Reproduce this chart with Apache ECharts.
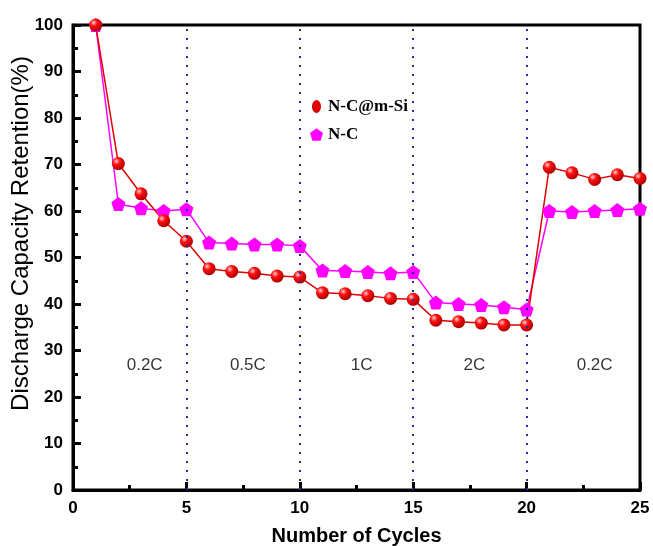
<!DOCTYPE html>
<html><head><meta charset="utf-8">
<script src="https://cdn.jsdelivr.net/npm/echarts@6/dist/echarts.min.js"></script>
<style>html,body{margin:0;padding:0;background:#fff}#c{width:653px;height:546px}</style>
</head><body><div id="c"></div>
<script>
var cycles = [1,2,3,4,5,6,7,8,9,10,11,12,13,14,15,16,17,18,19,20,21,22,23,24,25];
var ncmsi = [100,70.2,63.7,57.9,53.5,47.6,47.0,46.6,46.0,45.8,42.4,42.2,41.8,41.2,41.0,36.5,36.2,35.9,35.5,35.5,69.4,68.2,66.8,67.8,67.0];
var nc = [100,61.5,60.6,60.0,60.4,53.2,53.0,52.8,52.8,52.5,47.2,47.1,46.9,46.6,46.9,40.3,40.0,39.8,39.3,38.8,60.0,59.8,60.0,60.2,60.5];
var dividers = [5,10,15,20];
var rateLabels = ['0.2C','0.5C','1C','2C','0.2C'];
var rateX = [3.16,7.71,12.73,17.7,23.0];
var rateY = 26.9;

var pentagon = 'path://M50,0 L97.55,34.55 L79.39,90.45 L20.61,90.45 L2.45,34.55 Z';
var sphere = {type:'radial',x:0.35,y:0.32,r:0.75,colorStops:[{offset:0,color:'#ffd0d0'},{offset:0.35,color:'#ff1010'},{offset:1,color:'#a00000'}]};

var chart = echarts.init(document.getElementById('c'));
chart.setOption({
  animation:false,
  backgroundColor:'#fff',
  grid:{left:73,right:13,top:25,bottom:56,show:true,borderColor:'#000',borderWidth:3,backgroundColor:'transparent',containLabel:false,outerBoundsMode:'none'},
  legend:{
    left:305,top:93,orient:'vertical',itemGap:11,itemWidth:13,itemHeight:13,
    textStyle:{fontFamily:'Liberation Serif',fontWeight:'bold',fontSize:17,color:'#000'},
    data:[{name:'N-C@m-Si',icon:'path://M50,0 A35,50 0 1 1 49.9,0 Z',itemStyle:{color:'#e00000'}},{name:'N-C',icon:pentagon,itemStyle:{color:'#ff00ff'}}]
  },
  xAxis:{
    type:'value',min:0,max:25,interval:5,
    name:'Number of Cycles',nameLocation:'middle',nameGap:36,
    nameTextStyle:{fontFamily:'Liberation Sans',fontWeight:'bold',fontSize:20,color:'#000'},
    axisLine:{lineStyle:{color:'#000',width:3}},
    axisTick:{inside:true,length:8,lineStyle:{color:'#000',width:3}},
    minorTick:{show:true,splitNumber:2,length:5,lineStyle:{color:'#000',width:3}},
    axisLabel:{fontFamily:'Liberation Sans',fontWeight:'bold',fontSize:17,color:'#000',margin:10},
    splitLine:{show:false}
  },
  yAxis:{
    type:'value',min:0,max:100,interval:10,
    name:'Discharge Capacity Retention(%)',nameLocation:'middle',nameGap:40,nameMoveOverlap:false,
    nameTextStyle:{fontFamily:'Liberation Sans',fontSize:24,color:'#000',padding:[0,0,0,48]},
    axisLine:{lineStyle:{color:'#000',width:3}},
    axisTick:{inside:true,length:8,lineStyle:{color:'#000',width:3}},
    minorTick:{show:true,splitNumber:2,length:5,lineStyle:{color:'#000',width:3}},
    axisLabel:{fontFamily:'Liberation Sans',fontWeight:'bold',fontSize:17,color:'#000',margin:10},
    splitLine:{show:false}
  },
  series:[
    {
      name:'N-C',type:'line',data:cycles.map(function(c,i){return [c,nc[i]];}),
      symbol:pentagon,symbolSize:14,
      lineStyle:{color:'#ff00ff',width:1.5},itemStyle:{color:'#ff00ff'},
      markLine:{silent:true,symbol:'none',label:{show:false},
        lineStyle:{color:'#2828a8',type:[2,7],width:2},
        data:dividers.map(function(d){return {xAxis:d};})}
    },
    {
      name:'N-C@m-Si',type:'line',data:cycles.map(function(c,i){return [c,ncmsi[i]];}),
      symbol:'circle',symbolSize:13,
      lineStyle:{color:'#e00000',width:1.5},itemStyle:{color:sphere}
    },
    {
      name:'rates',type:'scatter',symbolSize:0,silent:true,
      data:rateX.map(function(x,i){return {value:[x,rateY],label:{formatter:rateLabels[i]}};}),
      label:{show:true,position:'inside',fontFamily:'Liberation Sans',fontSize:17,color:'#000'}
    }
  ]
});
</script></body></html>
